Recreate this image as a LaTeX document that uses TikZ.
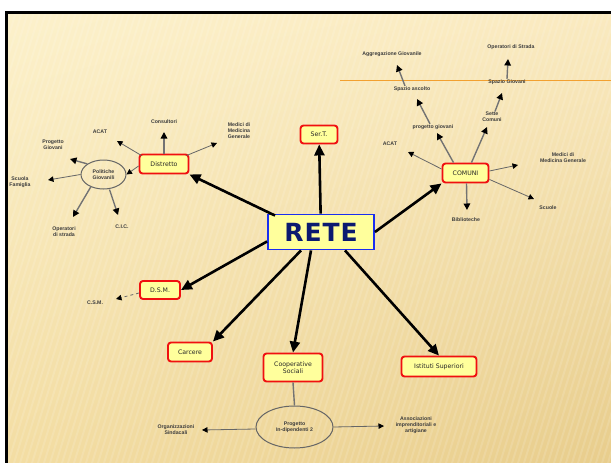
\documentclass[tikz,border=0pt]{standalone}
\usepackage{fontspec}
\setmainfont{DejaVu Sans}
\newfontfamily\lblfont{Liberation Sans}
\usetikzlibrary{arrows.meta,shapes.geometric,shadings}
\definecolor{bgA}{HTML}{FCF1CB}
\definecolor{bgB}{HTML}{FAEAC0}
\definecolor{bgC}{HTML}{F3DDA3}
\definecolor{bgD}{HTML}{E8CD8C}
\definecolor{boxfill}{HTML}{FFFF9C}
\definecolor{boxred}{HTML}{F01010}
\definecolor{reteblue}{HTML}{1A2EF0}
\definecolor{retetext}{HTML}{0B1A70}
\definecolor{lineorange}{HTML}{F2A030}
\definecolor{lbltext}{HTML}{3C3C3C}
\tikzset{
  redbox/.style={draw=boxred, line width=1.9pt, fill=boxfill, rounded corners=3pt,
    font=\fontsize{6.2}{7.2}\selectfont, inner sep=0pt, align=center, text=black!85},
  bigarrow/.style={line width=2.6pt, -{Triangle[length=11pt,width=10pt]}},
  subarrow/.style={line width=1.4pt, draw=black!55, -{Triangle[length=6.5pt,width=6.5pt,fill=black,color=black]}},
  thinarrow/.style={line width=0.8pt, draw=black!60, -{Triangle[length=5.5pt,width=5.5pt,fill=black,color=black]}},
  lbl/.style={font=\lblfont\bfseries\fontsize{5.2}{6}\selectfont, text=lbltext, align=center, inner sep=0.5pt},
  oval/.style={ellipse, draw=black!60, line width=1pt, inner sep=0pt, font=\lblfont\bfseries\fontsize{5.2}{6.2}\selectfont, text=lbltext, align=center}
}
\begin{document}
\begin{tikzpicture}[x=1pt,y=-1pt]
\useasboundingbox (0,0) rectangle (611,463);
\fill[white] (0,0) rectangle (611,463);
\shade[upper left=bgA, upper right=bgB, lower left=bgC, lower right=bgD] (6,12) rectangle (611,463);
\begin{scope}
\clip (6,12) rectangle (611,463);
\foreach \i in {-160,-154,...,620} \draw[white, opacity=0.13, line width=2pt] (\i,463) -- (\i+140,12);
\end{scope}
\draw[lineorange, line width=0.9pt] (340,80) -- (611,80);
\draw[black, line width=2.6pt] (6.5,470) -- (6.5,12.5) -- (620,12.5);

% main nodes
\node[draw=reteblue, line width=1.9pt, fill=boxfill, minimum width=106pt, minimum height=35pt, inner sep=0pt,
  font=\fontsize{25}{25}\bfseries\selectfont, text=retetext] (rete) at (321,232) {R\kern1ptE\kern1ptT\kern1ptE};
\node[redbox, minimum width=37pt, minimum height=18pt] (sert) at (319,134.5) {Ser.T.};
\node[redbox, minimum width=49pt, minimum height=19pt] (distretto) at (164,164) {Distretto};
\node[redbox, minimum width=46pt, minimum height=19pt] (comuni) at (465.5,173) {COMUNI};
\node[redbox, minimum width=40pt, minimum height=18pt] (dsm) at (160,290) {D.S.M.};
\node[redbox, minimum width=44pt, minimum height=19pt] (carcere) at (190,352) {Carcere};
\node[redbox, minimum width=59pt, minimum height=28pt] (coop) at (293,367.5) {Cooperative\\Sociali};
\node[redbox, minimum width=75pt, minimum height=20pt] (istituti) at (439,366.5) {Istituti Superiori};

\draw[bigarrow] (rete) -- (sert);
\draw[bigarrow] (rete.north west) ++(8,2) -- (distretto.south east);
\draw[bigarrow] (rete.east) -- (comuni.south west);
\draw[bigarrow] (rete.south west) ++(0,-9) -- (dsm.east);
\draw[bigarrow] (rete.south) ++(-20,0) -- (carcere.north east);
\draw[bigarrow] (rete.south) ++(-10,0) -- (coop.north);
\draw[bigarrow] (rete.south) ++(24,0) -- (istituti.north);

% Distretto group
\node[oval, minimum width=45pt, minimum height=29pt] (polgio) at (103.5,174.5) {Politiche\\Giovanili};
\node[lbl] (cons) at (164,122) {Consultori};
\node[lbl] (acat1) at (100,132) {ACAT};
\node[lbl] (mmg1) at (239,131) {Medici di\\Medicina\\Generale};
\node[lbl] (proggio1) at (53,145) {Progetto\\Giovani};
\node[lbl] (scuolafam) at (20,182) {Scuola\\Famiglia};
\node[lbl] (opstr1) at (64,232) {Operatori\\di strada};
\node[lbl] (cic) at (122,227) {C.I.C.};
\coordinate (tcons) at (164,132);
\coordinate (tacat1) at (117,141);
\coordinate (tmmg1) at (217,143);
\coordinate (tpg1) at (70,159);
\coordinate (tsf) at (48,180);
\coordinate (tos1) at (73,217);
\coordinate (tcic) at (118,215);
\draw[subarrow] (distretto.north) -- (tcons);
\draw[thinarrow] (distretto.north west) ++(3,2) -- (tacat1);
\draw[thinarrow] (distretto.north east) ++(-3,2) -- (tmmg1);
\draw[thinarrow] (distretto.west) ++(0,2) -- (polgio.east);
\draw[subarrow] (polgio.north west) -- (tpg1);
\draw[thinarrow] (polgio.west) -- (tsf);
\draw[subarrow] (polgio.south west) ++(4,1) -- (tos1);
\draw[subarrow] (polgio.south) ++(6,0) -- (tcic);

% COMUNI group
\node[lbl] (acat2) at (390,144) {ACAT};
\node[lbl] (mmg2) at (563,157.5) {Medici di\\Medicina Generale};
\node[lbl] (scuole) at (548,208) {Scuole};
\node[lbl] (biblio) at (466,220) {Biblioteche};
\node[lbl] (proggio2) at (433,127) {progetto giovani};
\node[lbl] (sette) at (492,117) {Sette\\Comuni};
\node[lbl] (spazio1) at (412,89) {Spazio ascolto};
\node[lbl] (aggr) at (392,54) {Aggregazione Giovanile};
\node[lbl] (spazio2) at (507,82) {Spazio Giovani};
\node[lbl] (opstr2) at (511,47) {Operatori di Strada};
\coordinate (tacat2) at (408,152);
\coordinate (tmmg2) at (518,165);
\coordinate (tscuole) at (534,199);
\coordinate (tbiblio) at (467,210);
\coordinate (tpg2) at (437,133);
\coordinate (tsette) at (487,127);
\coordinate (tsp1) at (417,99);
\coordinate (taggr) at (397,65);
\coordinate (tsp2) at (502,93);
\coordinate (tos2) at (508,59);
\draw[thinarrow] (comuni.west) ++(0,-4) -- (tacat2);
\draw[thinarrow] (comuni.east) ++(0,-2) -- (tmmg2);
\draw[thinarrow] (comuni.south east) ++(0,-4) -- (tscuole);
\draw[subarrow] (comuni.south) ++(1,0) -- (tbiblio);
\draw[subarrow] (comuni.north) ++(-12,0) -- (tpg2);
\draw[subarrow] (comuni.north) ++(6,0) -- (tsette);
\draw[subarrow] (proggio2.north) ++(-3,0) -- (tsp1);
\draw[subarrow] (spazio1.north) ++(-7,0) -- (taggr);
\draw[subarrow] (sette.north) ++(3,0) -- (tsp2);
\draw[subarrow] (spazio2.north) -- (tos2);

% D.S.M.
\node[lbl] (csm) at (95,303) {C.S.M.};
\coordinate (tcsm) at (116,299);
\draw[thinarrow, dashed] (dsm.west) ++(0,3) -- (tcsm);

% Progetto In-dipendenti
\node[oval, minimum width=77pt, minimum height=42pt] (progind) at (294.5,427) {Progetto\\In-dipendenti 2};
\draw[line width=1.4pt, draw=black!55] (coop.south) -- (progind.north);
\node[lbl] (orgsind) at (176,430) {Organizzazioni\\Sindacali};
\node[lbl] (assimp) at (416,425) {Associazioni\\imprenditoriali e\\artigiane};
\coordinate (torg) at (202,430);
\coordinate (tass) at (384,426);
\draw[thinarrow] (progind.west) ++(0,2) -- (torg);
\draw[thinarrow] (progind.east) -- (tass);
\end{tikzpicture}
\end{document}
